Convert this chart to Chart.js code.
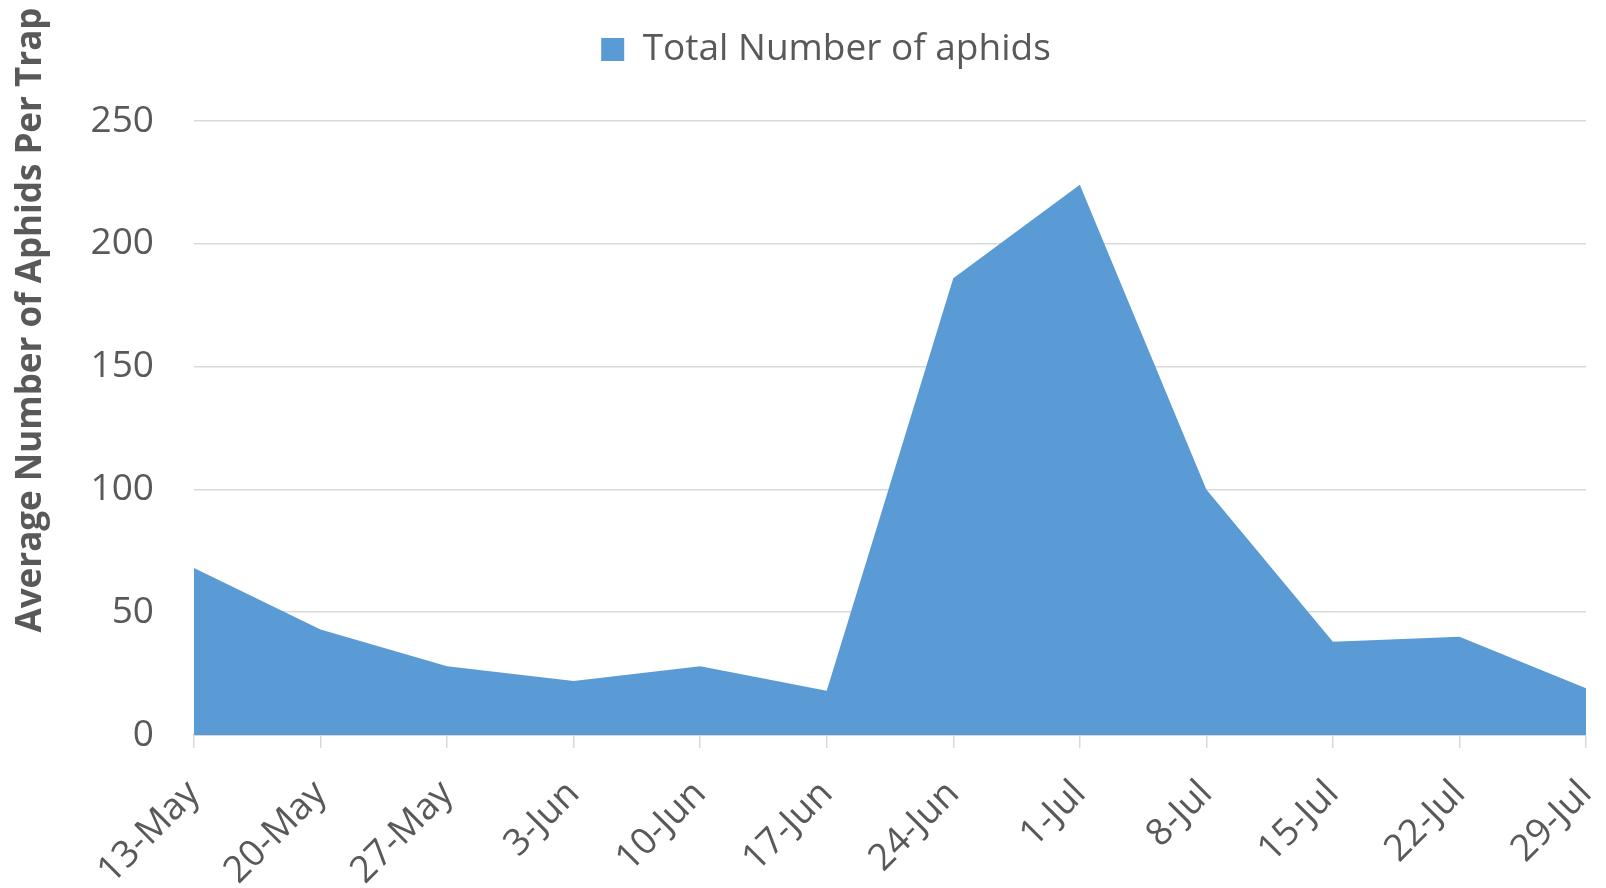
<!DOCTYPE html>
<html>
<head>
<meta charset="utf-8">
<script src="https://cdn.jsdelivr.net/npm/chart.js@4.4.0/dist/chart.umd.min.js"></script>
<style>
  html, body { margin: 0; padding: 0; background: #fff; }
  #wrap { width: 1606px; height: 888px; }
</style>
</head>
<body>
<div id="wrap"><canvas id="chart"></canvas></div>
<script>
// ---- data ----
const dates = ['13-May', '20-May', '27-May', '3-Jun', '10-Jun', '17-Jun',
               '24-Jun', '1-Jul', '8-Jul', '15-Jul', '22-Jul', '29-Jul'];
const aphids = [68, 43, 28, 22, 28, 18, 186, 224, 100, 38, 40, 19];
const yTicks = [0, 50, 100, 150, 200, 250];
const seriesName = 'Total Number of aphids';
const yTitle = 'Average Number of Aphids Per Trap';

// ---- styling ----
const textGrey = '#595959';
const gridGrey = '#D9D9D9';
const fillBlue = '#5B9BD5';
const fontFamily = '"Open Sans", "Liberation Sans", sans-serif';

// y axis title sits off-centre in the original, so draw it ourselves
const yTitlePlugin = {
  id: 'yTitle',
  afterDraw(chart) {
    const ctx = chart.ctx;
    ctx.save();
    ctx.translate(31, 320);
    ctx.rotate(-Math.PI / 2);
    ctx.font = 'bold 35px ' + fontFamily;
    ctx.fillStyle = textGrey;
    ctx.textAlign = 'center';
    ctx.textBaseline = 'middle';
    ctx.fillText(yTitle, 0, 0);
    ctx.restore();
  }
};

// empty box between legend and plot so the legend sits near the top edge
const spacerPlugin = {
  id: 'spacer',
  beforeInit(chart) {
    Chart.layouts.addBox(chart, {
      position: 'top',
      weight: 0,
      fullSize: true,
      options: {},
      isHorizontal() { return true; },
      update(maxWidth) { this.width = maxWidth; this.height = 43; },
      draw() {}
    });
  }
};

const ctx = document.getElementById('chart').getContext('2d');
new Chart(ctx, {
  type: 'line',
  data: {
    labels: dates,
    datasets: [{
      label: seriesName,
      data: aphids,
      backgroundColor: fillBlue,
      borderColor: fillBlue,
      borderWidth: 0,
      pointRadius: 0,
      tension: 0,
      fill: 'origin'
    }]
  },
  options: {
    responsive: true,
    maintainAspectRatio: false,
    animation: false,
    layout: { padding: { top: 10, left: 66, right: 20, bottom: 0 } },
    plugins: {
      tooltip: { enabled: false },
      legend: {
        position: 'top',
        labels: {
          color: textGrey,
          font: { family: fontFamily, size: 37 },
          boxWidth: 23,
          boxHeight: 23,
          padding: 10
        }
      }
    },
    scales: {
      x: {
        offset: false,
        grid: {
          drawOnChartArea: false,
          drawTicks: true,
          tickLength: 13,
          color: gridGrey,
          lineWidth: 1.5
        },
        border: { display: true, color: gridGrey, width: 2 },
        ticks: {
          color: textGrey,
          font: { family: fontFamily, size: 37 },
          minRotation: 45,
          maxRotation: 45,
          autoSkip: false,
          padding: 24
        },
        afterFit(scale) {
          scale.height = 153;
          scale.paddingLeft = 0;
          scale.paddingRight = 0;
        }
      },
      y: {
        min: yTicks[0],
        max: yTicks[yTicks.length - 1],
        afterBuildTicks(scale) {
          scale.ticks = yTicks.map(v => ({ value: v }));
        },
        grid: { color: gridGrey, lineWidth: 1.5, drawTicks: false },
        border: { display: false },
        ticks: {
          color: textGrey,
          font: { family: fontFamily, size: 37 },
          padding: 40
        },
        afterFit(scale) {
          scale.width = 128;
          scale.paddingTop = 121;
        }
      }
    }
  },
  plugins: [spacerPlugin, yTitlePlugin]
});
</script>
</body>
</html>
